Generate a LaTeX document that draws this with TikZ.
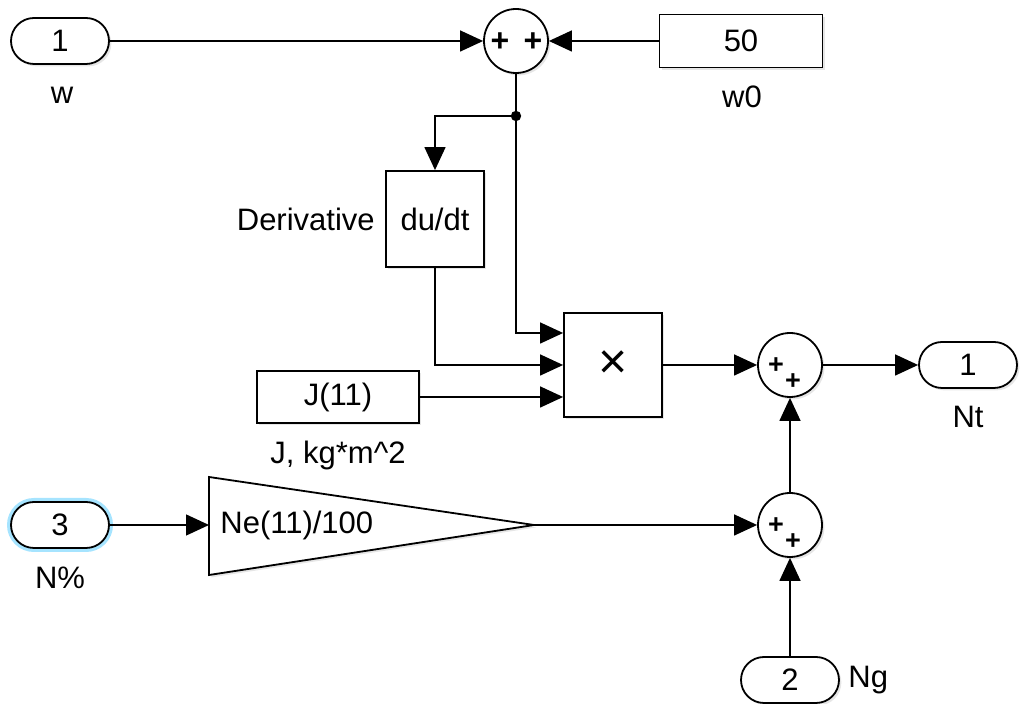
\documentclass[tikz,border=0pt]{standalone}
\usepackage{fontspec}
\setmainfont{Liberation Sans}
\usetikzlibrary{arrows.meta,shapes.misc,shadows,calc}

\begin{document}
\begin{tikzpicture}[
    x=.5pt,y=-.5pt,font=\fontsize{15.5}{18}\selectfont,
    wire/.style={line width=.7pt},
    signal/.style={wire,-{Triangle[length=11.5pt,width=10.5pt]}},
    shadowed/.style={drop shadow={opacity=.2,shadow xshift=1.2pt,shadow yshift=-1.2pt}},
    port/.style={rounded rectangle,draw,line width=.9pt,fill=white,shadowed,
        minimum width=49pt,minimum height=23pt,inner sep=0pt},
    block/.style={rectangle,draw,line width=.9pt,fill=white,shadowed,inner sep=0pt},
    sum/.style={circle,draw,line width=.9pt,fill=white,shadowed,minimum size=32pt,inner sep=0pt},
    sign/.style={inner sep=0pt,font=\fontsize{16}{16}\selectfont\bfseries},
    small sign/.style={inner sep=0pt,font=\fontsize{13.5}{13.5}\selectfont\bfseries},
    tag/.style={inner sep=1pt},
    halo/.style={preaction={draw=blue!30!cyan!35,line width=4pt}}
]
    \useasboundingbox (0,0) rectangle (1024,704);

    % speed input and offset
    \node[port] (inW) at (60,41) {1};
    \node[tag] (lblW) at (62,95) {w};
    \node[sum] (sumW) at (516,41) {};
    \node[sign] (sW1) at ($(sumW)+(-16,1)$) {+};
    \node[sign] (sW2) at ($(sumW)+(17,1)$) {+};
    \node[block,minimum width=81.5pt,minimum height=26.5pt] (cW0) at (741,41) {50};
    \node[tag] (lblW0) at (742,97) {w0};
    \coordinate (split) at (516,116);

    % derivative, inertia and product
    \node[block,minimum width=49pt,minimum height=48pt] (ddt) at (435,219) {du/dt};
    \node[tag,anchor=east] (lblD) at ([xshift=-4pt]ddt.west) {Derivative};
    \node[block,minimum width=49pt,minimum height=52pt,font=\fontsize{25}{25}\selectfont] (mult) at (613,365) {×};
    \coordinate (p1) at ([yshift=16pt]mult.west);
    \coordinate (p2) at (mult.west);
    \coordinate (p3) at ([yshift=-16pt]mult.west);
    \node[block,minimum width=81pt,minimum height=26pt] (jConst) at (338,397) {J(11)};
    \node[tag] (lblJ) at (338,455) {J, kg*m\textasciicircum 2};

    % output summation
    \node[sum] (sumT) at (790,365) {};
    \node[port] (outT) at (968,365) {1};
    \node[tag] (lblT) at (968,417) {Nt};
    \node[sum] (sumG) at (790,525) {};
    \foreach \s in {sumT,sumG} {
        \node[small sign] (\s a) at ($(\s)+(-14,1)$) {+};
        \node[small sign] (\s b) at ($(\s)+(3,17)$) {+};
    }

    % power input and gain
    \node[port,halo] (inN) at (60,525) {3};
    \node[tag] (lblN) at (60,578) {N\%};
    \coordinate (gTop) at (209,477);
    \coordinate (gBot) at (209,575);
    \coordinate (gTip) at (534,525);
    \coordinate (gIn) at (209,525);
    \draw[line width=.9pt,fill=white,shadowed] (gTop) -- (gTip) -- (gBot) -- cycle;
    \node[anchor=west,inner sep=0pt] (gainTxt) at (220,525) {Ne(11)/100};
    \node[port] (inG) at (790,680) {2};
    \node[tag,anchor=west] (lblG) at (846,680) {Ng};

    % signals
    \draw[signal] (inW.east) -- (sumW.west);
    \draw[signal] (cW0.west) -- (sumW.east);
    \draw[wire] (sumW.south) -- (split);
    \fill (split) circle (2.6pt);
    \draw[signal] (split) -| (ddt.north);
    \draw[signal] (split) |- (p1);
    \draw[signal] (ddt.south) |- (p2);
    \draw[signal] (jConst.east) -- (p3);
    \draw[signal] (mult.east) -- (sumT.west);
    \draw[signal] (sumT.east) -- (outT.west);
    \draw[signal] (inN.east) -- (gIn);
    \draw[signal] (gTip) -- (sumG.west);
    \draw[signal] (sumG.north) -- (sumT.south);
    \draw[signal] (inG.north) -- (sumG.south);
\end{tikzpicture}
\end{document}
